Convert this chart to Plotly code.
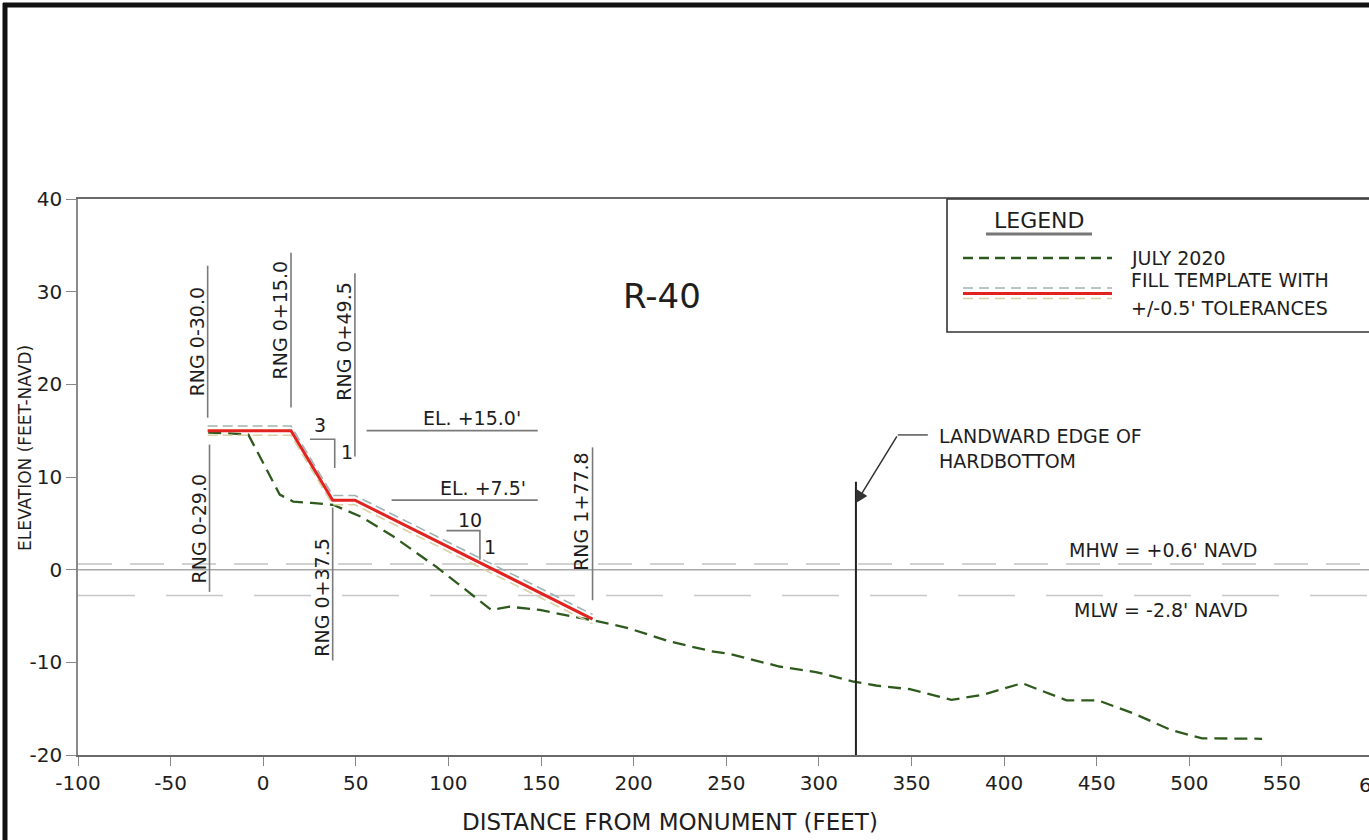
import plotly.graph_objects as go

# ---------------- data ----------------
survey_x = [-29.7, -8.1, 8.9, 16.2, 26.0, 37.7, 53.0, 70.1, 93.5, 123.2, 133.1, 149.3,
            170.9, 181.4, 196.9, 219.4, 242.0, 251.8, 278.7, 298.4, 318.1, 330.8, 349.1,
            371.6, 388.6, 409.7, 433.7, 450.6, 470.3, 490.0, 506.9, 539.3]
survey_y = [14.8, 14.6, 8.1, 7.35, 7.2, 7.0, 5.7, 3.6, 0.3, -4.35, -4.0, -4.35,
            -5.2, -5.6, -6.3, -7.75, -8.8, -9.1, -10.45, -11.05, -12.05, -12.5, -12.9,
            -14.05, -13.5, -12.25, -14.1, -14.1, -15.55, -17.3, -18.2, -18.25]

template_x = [-30.0, 15.0, 37.5, 49.5, 177.8]
template_y = [15.0, 15.0, 7.5, 7.5, -5.33]
tolerance = 0.5

mhw = 0.6
mlw = -2.8
hardbottom_x = 320

rng_stations = [-30.0, -29.0, 15.0, 49.5, 37.5, 177.8]
rng_labels = ["RNG 0-30.0", "RNG 0-29.0", "RNG 0+15.0", "RNG 0+49.5", "RNG 0+37.5", "RNG 1+77.8"]

x_ticks = list(range(-100, 551, 50))
y_ticks = list(range(-20, 41, 10))
x_ticktext = [str(v) for v in x_ticks]
y_ticktext = [str(v) for v in y_ticks]

# ---------------- styling ----------------
FONT = "DejaVu Sans"
TXT = "#1e1e1e"
GREEN = "#2e5b1d"
RED = "#e3231f"
TOL_UP = "#9fb2b2"
TOL_DN = "#d8d2a6"
GRAY = "#7a7a7a"

L, T, B = 78, 199, 85
W, H = 1369, 840
PW, PH = W - L, H - T - B


def px(xp):
    return (xp - L) / PW


def py(yp):
    return (H - B - yp) / PH


fig = go.Figure()

fig.add_trace(go.Scatter(x=survey_x, y=survey_y, mode="lines",
                         line=dict(color=GREEN, width=2.3, dash="13px,7px"),
                         hoverinfo="skip"))
fig.add_trace(go.Scatter(x=template_x, y=[v + tolerance for v in template_y], mode="lines",
                         line=dict(color=TOL_UP, width=1.6, dash="10px,5px"), hoverinfo="skip"))
fig.add_trace(go.Scatter(x=template_x, y=[v - tolerance for v in template_y], mode="lines",
                         line=dict(color=TOL_DN, width=1.6, dash="10px,5px"), hoverinfo="skip"))
fig.add_trace(go.Scatter(x=template_x, y=template_y, mode="lines",
                         line=dict(color=RED, width=3), hoverinfo="skip"))

shapes = []
ann = []

# outer drawing frame
shapes.append(dict(type="line", xref="paper", yref="paper", x0=px(5), x1=px(5), y0=py(3), y1=py(900),
                   line=dict(color="#111", width=5)))
shapes.append(dict(type="line", xref="paper", yref="paper", x0=px(3), x1=px(1400), y0=py(5), y1=py(5),
                   line=dict(color="#111", width=5)))

# water levels
shapes.append(dict(type="line", xref="paper", yref="y", x0=0, x1=1, y0=0, y1=0,
                   line=dict(color="#a9a9a9", width=1.5), layer="below"))
shapes.append(dict(type="line", xref="paper", yref="y", x0=0, x1=1, y0=mhw, y1=mhw,
                   line=dict(color="#c4c4c4", width=1.5, dash="34px,18px"), layer="below"))
shapes.append(dict(type="line", xref="paper", yref="y", x0=0, x1=1, y0=mlw, y1=mlw,
                   line=dict(color="#c8c8c8", width=1.5, dash="57px,31px"), layer="below"))

# range lines + labels
rng_extent = [(16.4, 32.8), (-2.4, 13.5), (17.5, 34.2), (12.2, 32.0), (-9.8, 6.7), (-3.3, 13.2)]
rng_label_y = [24.6, 4.4, 26.9, 24.7, -2.95, 6.3]
for st, lab, (y0, y1), ly in zip(rng_stations, rng_labels, rng_extent, rng_label_y):
    shapes.append(dict(type="line", xref="x", yref="y", x0=st, x1=st, y0=y0, y1=y1,
                       line=dict(color=GRAY, width=1.6)))
    ann.append(dict(x=st, y=ly, xref="x", yref="y", text=lab, showarrow=False, textangle=-90,
                    xshift=-11, font=dict(family=FONT, size=19, color=TXT)))

# elevation call-outs
for yv, x0, x1, txt, tx, ty in [(15.0, 55.8, 148.2, "EL. +15.0'", 140.0, 16.35),
                                (7.5, 69.3, 148.2, "EL. +7.5'", 143.0, 8.85)]:
    shapes.append(dict(type="line", xref="x", yref="y", x0=x0, x1=x1, y0=yv, y1=yv,
                       line=dict(color=GRAY, width=1.6)))
    ann.append(dict(x=tx, y=ty, xref="x", yref="y", text=txt, showarrow=False,
                    xanchor="right", yanchor="middle", font=dict(family=FONT, size=19, color=TXT)))

# slope indicators
for (hx0, hx1, hy, vy1, t1, t1x, t1y, t2x, t2y) in [
        (25.2, 38.6, 14.07, 10.97, "3", 30.7, 15.6, 45.1, 12.7),
        (98.9, 117.0, 4.21, 1.06, "10", 111.6, 5.36, 122.4, 2.48)]:
    shapes.append(dict(type="path", xref="x", yref="y",
                       path=f"M {hx0} {hy} L {hx1} {hy} L {hx1} {vy1}",
                       line=dict(color=GRAY, width=1.6)))
    ann.append(dict(x=t1x, y=t1y, xref="x", yref="y", text=t1, showarrow=False,
                    font=dict(family=FONT, size=19, color=TXT)))
    ann.append(dict(x=t2x, y=t2y, xref="x", yref="y", text="1", showarrow=False,
                    font=dict(family=FONT, size=19, color=TXT)))

# hardbottom
shapes.append(dict(type="line", xref="x", yref="y", x0=hardbottom_x, x1=hardbottom_x, y0=-20, y1=9.5,
                   line=dict(color="#222", width=2)))
shapes.append(dict(type="line", xref="x", yref="y", x0=342.6, x1=358.8, y0=14.54, y1=14.54,
                   line=dict(color="#555", width=1.5)))
ann.append(dict(x=hardbottom_x, y=7.2, xref="x", yref="y", ax=342.6, ay=14.54, axref="x", ayref="y",
                text="", showarrow=True, arrowhead=2, arrowsize=1.6, arrowwidth=1.5, arrowcolor="#333"))
ann.append(dict(x=363.7, y=13.1, xref="x", yref="y", text="LANDWARD EDGE OF<br>HARDBOTTOM",
                showarrow=False, xanchor="left", yanchor="middle", align="left",
                font=dict(family=FONT, size=19, color=TXT)))

# water level labels
ann.append(dict(x=485.8, y=2.1, xref="x", yref="y", text="MHW = +0.6' NAVD", showarrow=False,
                font=dict(family=FONT, size=19, color=TXT)))
ann.append(dict(x=484.7, y=-4.3, xref="x", yref="y", text="MLW = -2.8' NAVD", showarrow=False,
                font=dict(family=FONT, size=19, color=TXT)))

# profile title
ann.append(dict(x=215.3, y=29.5, xref="x", yref="y", text="R-40", showarrow=False,
                font=dict(family=FONT, size=34, color=TXT)))

# legend box
shapes.append(dict(type="rect", xref="paper", yref="paper", x0=px(947), x1=px(1420), y0=py(332), y1=py(199),
                   line=dict(color="#333", width=1.6), fillcolor="white"))
ann.append(dict(x=px(1039), y=py(220), xref="paper", yref="paper", text="LEGEND", showarrow=False,
                xanchor="center", yanchor="middle",
                font=dict(family=FONT, size=22, color=TXT)))
shapes.append(dict(type="line", xref="paper", yref="paper", x0=px(986), x1=px(1092), y0=py(234), y1=py(234),
                   line=dict(color="#777", width=3)))
shapes.append(dict(type="line", xref="paper", yref="paper", x0=px(963), x1=px(1112), y0=py(258), y1=py(258),
                   line=dict(color=GREEN, width=2.3, dash="10px,6px")))
shapes.append(dict(type="line", xref="paper", yref="paper", x0=px(963), x1=px(1112), y0=py(288), y1=py(288),
                   line=dict(color=TOL_UP, width=1.6, dash="10px,6px")))
shapes.append(dict(type="line", xref="paper", yref="paper", x0=px(963), x1=px(1112), y0=py(293.5), y1=py(293.5),
                   line=dict(color=RED, width=3)))
shapes.append(dict(type="line", xref="paper", yref="paper", x0=px(963), x1=px(1112), y0=py(298.5), y1=py(298.5),
                   line=dict(color=TOL_DN, width=1.6, dash="10px,6px")))
for txt, yy in [("JULY 2020", 258), ("FILL TEMPLATE WITH", 280), ("+/-0.5' TOLERANCES", 308)]:
    ann.append(dict(x=px(1129), y=py(yy), xref="paper", yref="paper", text=txt, showarrow=False,
                    xanchor="left", yanchor="middle", font=dict(family=FONT, size=19, color=TXT)))

# axis titles and cut-off 600 label
ann.append(dict(x=px(670), y=py(822), xref="paper", yref="paper", text="DISTANCE FROM MONUMENT (FEET)",
                showarrow=False, xanchor="center", yanchor="middle",
                font=dict(family=FONT, size=23, color=TXT)))
ann.append(dict(x=px(25), y=py(448), xref="paper", yref="paper", text="ELEVATION (FEET-NAVD)",
                showarrow=False, textangle=-90, xanchor="center", yanchor="middle",
                font=dict(family=FONT, size=17, color=TXT)))
ann.append(dict(x=px(1357), y=py(785), xref="paper", yref="paper", text="600", showarrow=False,
                xanchor="left", yanchor="middle",
                font=dict(family=FONT, size=20, color=TXT)))

fig.update_layout(
    width=W, height=H,
    margin=dict(l=L, r=0, t=T, b=B),
    paper_bgcolor="white", plot_bgcolor="white",
    showlegend=False,
    shapes=shapes, annotations=ann,
    font=dict(family=FONT, color=TXT),
)
fig.update_xaxes(range=[-100, 597], tickvals=x_ticks, ticktext=x_ticktext, ticks="outside", ticklen=9,
                 tickwidth=1.3, tickcolor="#888", showline=True, linecolor="#6a6a6a", linewidth=1.6,
                 mirror=True, showgrid=False, zeroline=False, tickfont=dict(family=FONT, size=20, color=TXT))
fig.update_yaxes(range=[-20, 40], tickvals=y_ticks, ticktext=y_ticktext, ticks="outside", ticklen=10,
                 tickwidth=1.3, tickcolor="#888", showline=True, linecolor="#8a8a8a", linewidth=1.6,
                 mirror=False, showgrid=False, zeroline=False, tickfont=dict(family=FONT, size=20, color=TXT))

fig.write_html("out.html", config={"displayModeBar": False},
               post_script="document.body.style.margin='0';document.body.style.overflow='hidden';")
